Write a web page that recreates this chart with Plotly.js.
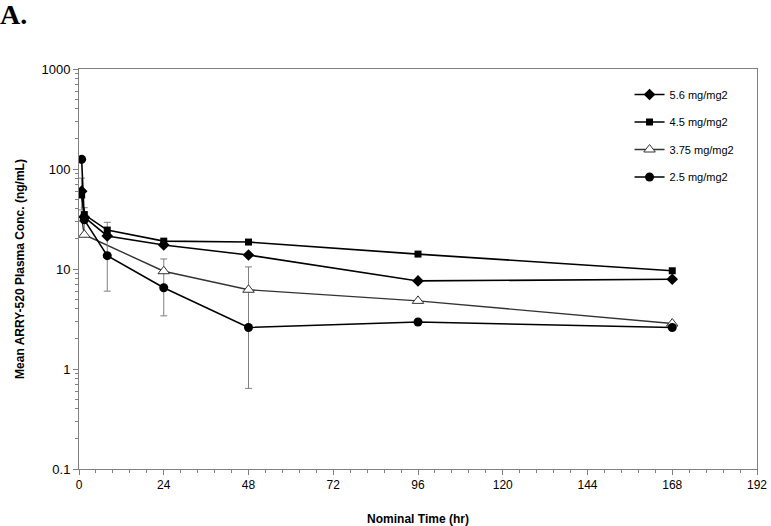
<!DOCTYPE html>
<html>
<head>
<meta charset="utf-8">
<script src="https://cdn.plot.ly/plotly-3.0.1.min.js"></script>
<style>html,body{margin:0;padding:0;background:#fff;}#chart{width:771px;height:526px;}</style>
</head>
<body>
<div id="chart"></div>
<script>
// Nominal sampling times (hr)
const timeHr = [0.75, 1.5, 8, 24, 48, 96, 168];
// Mean plasma concentrations (ng/mL) per dose group
const dose56 = [60, 33, 21.4, 17.4, 13.8, 7.6, 7.9];
const dose45 = [55, 35, 24.5, 19.0, 18.6, 14.1, 9.6];
const dose375 = [32, 22, null, 9.5, 6.2, 4.8, 2.85];
const dose25 = [125, 31, 13.6, 6.5, 2.6, 2.95, 2.6];
// Error bars (SD)
const dose56Plus = [21, 0, 7.9, 0, 0, 0, 0];
const dose56Minus = [21, 0, 7.8, 0, 0, 0, 0];
const dose375Plus = [0, 19, 0, 3.1, 4.3, 0, 0];
const dose375Minus = [0, 0, 0, 3.0, 3.6, 0, 0];
const dose25Plus = [0, 0, 0, 0, 0, 0, 0];
const dose25Minus = [0, 0, 7.6, 3.1, 1.96, 0, 0];
const seriesNames = ['5.6 mg/mg2', '4.5 mg/mg2', '3.75 mg/mg2', '2.5 mg/mg2'];
const xTicks = [0, 24, 48, 72, 96, 120, 144, 168, 192];
const yTicks = [0.1, 1, 10, 100, 1000];
const yTickText = ['0.1', '1', '10', '100', '1000'];

const errStyle = (plus, minus) => ({
  type: 'data', symmetric: false, array: plus, arrayminus: minus,
  color: '#808080', thickness: 1, width: 3.5, visible: true
});

const traces = [
  {
    x: timeHr, y: dose375, name: seriesNames[2], legendrank: 3, legendgroup: 'c',
    mode: 'lines+markers', type: 'scatter', connectgaps: true,
    line: {color: '#333333', width: 1.4},
    marker: {symbol: 'triangle-up', size: 10, color: '#ffffff', line: {color: '#333333', width: 1}},
    error_y: errStyle(dose375Plus, dose375Minus)
  },
  {
    x: timeHr, y: dose56, name: seriesNames[0], legendrank: 1, legendgroup: 'a',
    mode: 'lines+markers', type: 'scatter',
    line: {color: '#000000', width: 1.6},
    marker: {symbol: 'diamond', size: 9, color: '#000000'},
    error_y: errStyle(dose56Plus, dose56Minus)
  },
  {
    x: timeHr, y: dose45, name: seriesNames[1], legendrank: 2, legendgroup: 'b',
    mode: 'lines+markers', type: 'scatter',
    line: {color: '#000000', width: 1.6},
    marker: {symbol: 'square', size: 7, color: '#000000'}
  },
  {
    x: timeHr, y: dose25, name: seriesNames[3], legendrank: 4, legendgroup: 'd',
    mode: 'lines+markers', type: 'scatter',
    line: {color: '#000000', width: 1.6},
    marker: {symbol: 'circle', size: 9, color: '#000000'},
    error_y: errStyle(dose25Plus, dose25Minus)
  }
];

const layout = {
  width: 771, height: 526,
  margin: {l: 79, r: 14, t: 69, b: 57},
  paper_bgcolor: '#ffffff', plot_bgcolor: '#ffffff',
  font: {family: 'Liberation Sans, Arial, sans-serif', size: 12, color: '#000'},
  showlegend: true,
  legend: {
    x: 0.812, y: 0.9725, xanchor: 'left', yanchor: 'top',
    bgcolor: 'rgba(0,0,0,0)', borderwidth: 0,
    font: {size: 11, family: 'Liberation Sans, Arial, sans-serif'},
    traceorder: 'grouped', tracegroupgap: 8.5, itemwidth: 30
  },
  xaxis: {
    range: [0, 192], tickvals: xTicks, ticktext: xTicks.map(String),
    ticks: 'outside', ticklen: 5, tickcolor: '#808080',
    minor: {dtick: 4.8, ticks: 'outside', ticklen: 3, tickcolor: '#808080'},
    showline: true, linecolor: '#808080', linewidth: 1, mirror: true,
    showgrid: false, zeroline: false,
    tickfont: {family: 'Liberation Sans Narrow, Liberation Sans, Arial, sans-serif', size: 12},
    title: {text: 'Nominal Time (hr)', standoff: 24,
      font: {family: 'Liberation Sans Narrow, Liberation Sans, Arial, sans-serif', size: 12, weight: 'bold'}}
  },
  yaxis: {
    type: 'log', range: [-1, 3], tickvals: yTicks, ticktext: yTickText,
    ticks: 'outside', ticklen: 5, tickcolor: '#808080',
    minor: {dtick: 'D1', ticks: 'outside', ticklen: 3, tickcolor: '#808080', showgrid: false},
    showline: true, linecolor: '#808080', linewidth: 1, mirror: true,
    showgrid: false, zeroline: false,
    tickfont: {size: 13},
    title: {text: 'Mean ARRY-520 Plasma Conc. (ng/mL)', standoff: 14,
      font: {size: 12, weight: 'bold'}}
  },
  annotations: [{
    text: 'A.', xref: 'paper', yref: 'paper', x: -79/685, y: 1 + 69/400,
    xanchor: 'left', yanchor: 'top', showarrow: false, xshift: -3, yshift: 3,
    font: {family: 'Liberation Serif, Times New Roman, serif', size: 28, weight: 'bold', color: '#000'}
  }]
};

Plotly.newPlot('chart', traces, layout, {staticPlot: true, displayModeBar: false});
</script>
</body>
</html>
